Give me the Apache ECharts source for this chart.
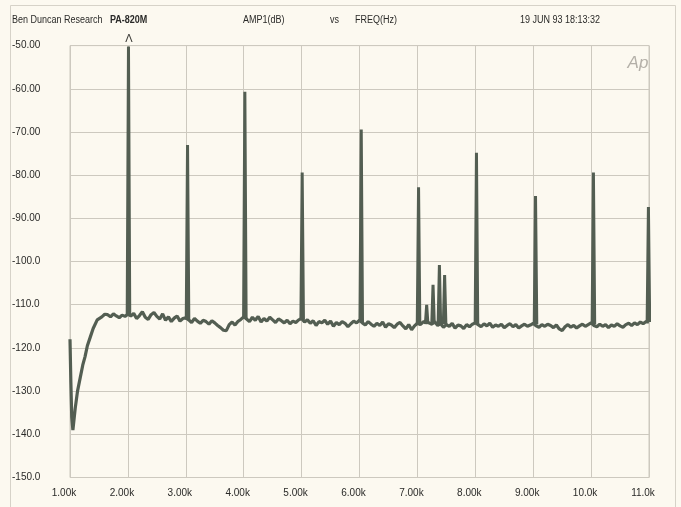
<!DOCTYPE html>
<html>
<head>
<meta charset="utf-8">
<script src="https://cdn.jsdelivr.net/npm/echarts@6/dist/echarts.min.js"></script>
<style>
  html, body { margin: 0; padding: 0; background: #fcf9f0; }
  #chart { width: 681px; height: 507px; }
</style>
</head>
<body>
<div id="chart"></div>
<script>
// == Data ==================================================================

// start of sweep: notch at the 1 kHz fundamental
const notchHz = [1000, 1015, 1030, 1050, 1090, 1130, 1175, 1220, 1260, 1300, 1350, 1400, 1470, 1550, 1600]
const notchDb = [-118, -128, -136, -139, -134, -130, -127, -124, -122, -119.5, -117.5, -115.5, -113.5, -112.8, -112.2]

// noise floor, one reading every 50 Hz from 1650 Hz to 11 kHz
const floorStartHz = 1650
const floorStepHz = 50
const floorDb = [
  -112.3, -112.8, -112.1, -112.6, -113.0, -112.4, -112.7,
  -112.2, -112.6, -112.0, -113.2, -112.5, -111.6, -112.9, -113.4, -112.3, -111.8, -112.7, -113.3, -112.1, -113.6, -112.8, -113.9, -113.1, -112.6, -113.8, -113.2,
  -113.0, -113.5, -114.1, -113.2, -113.8, -114.3, -113.6, -113.9, -114.5, -113.7, -114.2, -114.8, -115.3, -115.9, -116.0, -114.6, -114.0, -114.7, -113.9, -113.4,
  -112.8, -113.3, -113.9, -112.9, -113.6, -112.7, -114.0, -113.2, -113.8, -112.9, -113.5, -114.1, -113.3, -113.7, -114.2, -113.6, -114.4, -113.8, -114.1, -113.5,
  -113.2, -114.0, -113.5, -114.3, -113.7, -114.8, -113.9, -114.2, -113.6, -114.5, -113.8, -115.0, -114.1, -114.6, -113.9, -114.3, -115.1, -114.4, -113.8, -114.2,
  -113.6, -114.2, -114.7, -113.9, -114.5, -115.0, -114.3, -114.8, -114.0, -115.2, -114.4, -114.7, -115.3, -114.5, -114.1, -114.9, -115.6, -114.6, -115.8, -114.9,
  -114.3, -114.6, -114.0, -113.8, -114.2, -114.5, -113.9, -114.8, -114.4, -115.2, -114.6, -115.0, -114.3, -115.4, -114.7, -114.9, -115.5, -114.6, -115.1, -114.5,
  -114.2, -114.6, -115.1, -114.4, -114.9, -114.3, -115.2, -114.7, -115.0, -114.5, -115.3, -114.8, -114.4, -115.1, -114.6, -115.4, -114.9, -114.5, -115.0, -114.7,
  -114.3, -114.9, -115.2, -114.6, -115.0, -114.5, -114.8, -115.3, -114.7, -115.6, -116.0, -115.1, -114.6, -115.2, -114.8, -115.4, -114.9, -114.5, -115.0, -114.6,
  -114.2, -114.8, -115.1, -114.5, -115.0, -114.6, -115.3, -114.7, -115.0, -114.4, -114.9, -115.2, -114.6, -114.3, -114.8, -114.2, -114.6, -114.0, -114.4, -113.9,
  -114.0
]

// harmonics and the small cluster near 7.3 kHz
const spikeHz = [2010, 3030, 4020, 5010, 6030, 7020, 7160, 7270, 7380, 7470, 8020, 9040, 10040, 10990]
const spikeTopDb = [-50.2, -73.0, -60.7, -79.4, -69.4, -82.8, -110.0, -105.4, -100.8, -103.1, -74.8, -84.8, -79.4, -87.4]
const spikeBaseDb = [-112.5, -113.5, -113.3, -113.5, -114.0, -114.3, -114.5, -114.5, -114.5, -114.5, -114.3, -114.6, -114.5, -114.0]

const xTicksHz = [1000, 11000]
const yTicksDb = [-150, -50]

// == Chart =================================================================

const traceColor = '#535e52'
const gridColor = '#cdc9bf'
const textFont = '"Liberation Sans", Arial, sans-serif'

const trace = notchHz.map((hz, i) => [hz, notchDb[i]])
floorDb.forEach((db, i) => trace.push([floorStartHz + i * floorStepHz, db]))

const spikeSeries = spikeHz.map((hz, i) => ({
  type: 'line',
  silent: true,
  symbol: 'none',
  z: 3,
  lineStyle: { color: traceColor, width: 3 },
  data: [[hz - 22, spikeBaseDb[i]], [hz, spikeTopDb[i]], [hz + 22, spikeBaseDb[i]]]
}))

// header line is a condensed face in the original, squeeze it a bit
const headerText = (text, x, extra) => ({
  type: 'text',
  x: x,
  y: 20,
  scaleX: 0.9,
  style: Object.assign({
    text: text,
    font: '10px ' + textFont,
    fill: '#2a2a28',
    verticalAlign: 'middle'
  }, extra || {})
})

const chart = echarts.init(document.getElementById('chart'), null, { renderer: 'canvas' })
chart.setOption({
  animation: false,
  backgroundColor: '#fcf9f0',
  grid: { left: 70, top: 45.6, right: 32, bottom: 29.5, show: true, borderColor: gridColor, borderWidth: 1 },
  xAxis: {
    type: 'value',
    min: xTicksHz[0],
    max: xTicksHz[1],
    interval: 1000,
    axisLine: { show: false },
    axisTick: { show: false },
    splitLine: { show: true, lineStyle: { color: gridColor, width: 1 } },
    axisLabel: {
      margin: 11,
      fontFamily: textFont,
      fontSize: 10,
      color: '#2a2a28',
      padding: [0, 12, 0, 0],
      formatter: v => (v / 1000).toPrecision(3) + 'k'
    }
  },
  yAxis: {
    type: 'value',
    min: yTicksDb[0],
    max: yTicksDb[1],
    interval: 10,
    axisLine: { show: false },
    axisTick: { show: false },
    splitLine: { show: true, lineStyle: { color: gridColor, width: 1 } },
    axisLabel: {
      margin: 58,
      align: 'left',
      fontFamily: textFont,
      fontSize: 10,
      color: '#2a2a28',
      formatter: v => v.toPrecision(4)
    }
  },
  series: [{
    type: 'line',
    silent: true,
    symbol: 'none',
    z: 2,
    lineStyle: { color: traceColor, width: 3.2 },
    data: trace
  }].concat(spikeSeries),
  graphic: [
    { type: 'rect', shape: { x: 10.5, y: 5.5, width: 665, height: 510 }, style: { fill: 'none', stroke: '#d6d2c8', lineWidth: 1 } },
    headerText('Ben Duncan Research', 12),
    headerText('PA-820M', 110, { font: 'bold 10px ' + textFont }),
    headerText('AMP1(dB)', 243),
    headerText('vs', 330),
    headerText('FREQ(Hz)', 355),
    headerText('19 JUN 93 18:13:32', 520),
    { type: 'text', x: 129, y: 39, style: { text: 'Λ', font: '11px ' + textFont, fill: '#3a3a36', align: 'center', verticalAlign: 'middle' } },
    { type: 'text', x: 638, y: 63, style: { text: 'Ap', font: 'italic 300 17px ' + textFont, fill: '#b4b0a8', align: 'center', verticalAlign: 'middle' } }
  ]
})
</script>
</body>
</html>
